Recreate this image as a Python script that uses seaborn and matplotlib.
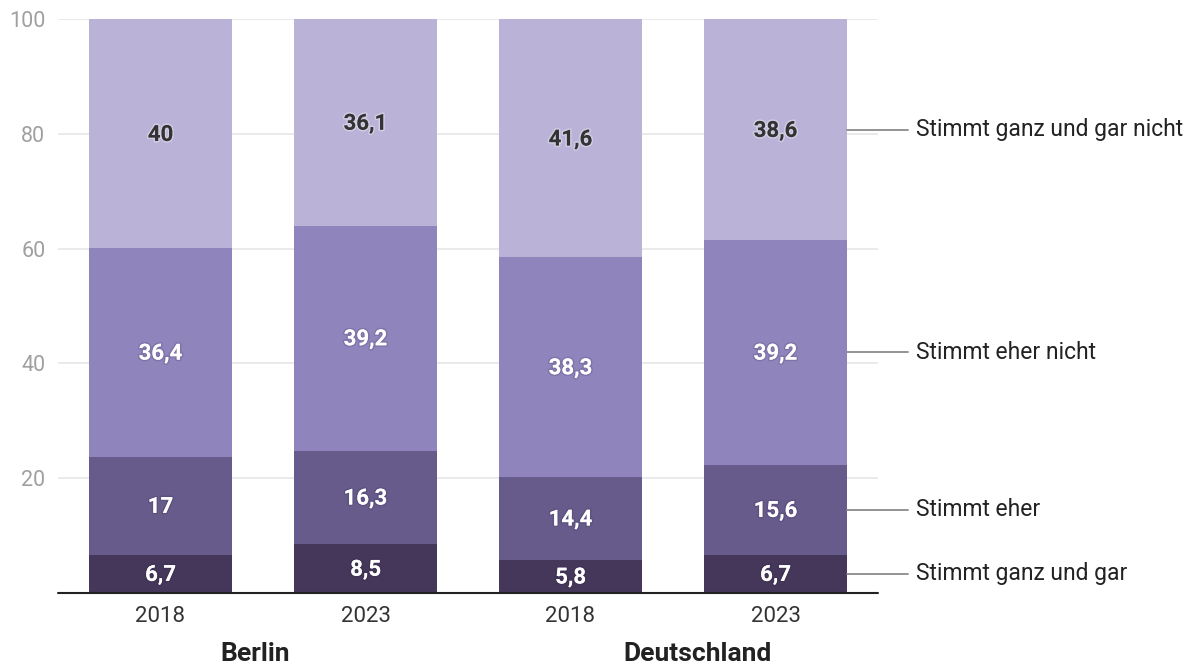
import matplotlib
matplotlib.use("Agg")
import matplotlib.pyplot as plt
import seaborn as sns
import numpy as np
import pandas as pd
from matplotlib import patheffects as pe

# ---- data ----
bar_keys = ["Berlin 2018", "Berlin 2023", "Deutschland 2018", "Deutschland 2023"]
year_labels = ["2018", "2023", "2018", "2023"]
group_labels = ["Berlin", "Deutschland"]
series_names = ["Stimmt ganz und gar", "Stimmt eher", "Stimmt eher nicht", "Stimmt ganz und gar nicht"]
ganz_und_gar = [6.7, 8.5, 5.8, 6.7]
eher = [17, 16.3, 14.4, 15.6]
eher_nicht = [36.4, 39.2, 38.3, 39.2]
gar_nicht = [40, 36.1, 41.6, 38.6]
colors = ["#443759", "#675b8c", "#8f84bb", "#bab3d7"]
text_colors = ["white", "white", "white", "#333333"]

series = [ganz_und_gar, eher, eher_nicht, gar_nicht]

sns.set_theme(style="white")
plt.rcParams["font.family"] = ["Roboto", "DejaVu Sans"]

fig = plt.figure(figsize=(11.93, 6.64), dpi=100)
ax = fig.add_axes([58/1193, 71/664, 820/1193, 574/664])

cum = np.cumsum(np.array(series), axis=0)
cum_clip = np.minimum(cum, 100)

# draw from top layer down (overdraw)
for i in range(3, -1, -1):
    df = pd.DataFrame({"key": bar_keys, "val": cum_clip[i]})
    sns.barplot(data=df, x="key", y="val", order=bar_keys, color=colors[i],
                saturation=1, width=0.7, linewidth=0, ax=ax, zorder=2)

# segment labels
for i in range(4):
    bottoms = cum_clip[i] - np.array(series[i])
    for j in range(4):
        top = cum_clip[i][j]
        mid = (bottoms[j] + top) / 2
        txt = f"{series[i][j]:g}".replace(".", ",")
        halo = (0.15, 0.1, 0.25, 0.15) if i < 3 else (1, 1, 1, 0.35)
        ax.text(j, mid - 0.2, txt, ha="center", va="center", fontsize=16, fontweight="bold",
                color=text_colors[i], zorder=5,
                path_effects=[pe.withStroke(linewidth=2.2, foreground=halo)])

ax.set_xlim(-0.5, 3.5)
ax.set_ylim(0, 100)
ax.set_yticks([20, 40, 60, 80, 100])
ax.set_yticklabels(["20", "40", "60", "80", "100"])
ax.set_xticks(range(4))
ax.set_xticklabels(year_labels)
ax.tick_params(axis="y", length=0, pad=9, labelsize=15.5, labelcolor="#a0a0a0")
ax.tick_params(axis="x", length=0, pad=9, labelsize=16, labelcolor="#333333")
ax.set_xlabel("")
ax.set_ylabel("")
for s in ax.spines.values():
    s.set_visible(False)
ax.yaxis.grid(True, color="#e6e6e6", linewidth=1.2, zorder=0)
ax.set_axisbelow(True)
ax.axhline(0, color="#222222", linewidth=1.5, zorder=6, clip_on=False)

# group labels
ax.text(0.463, -0.1065, group_labels[0], transform=ax.get_xaxis_transform(), ha="center", va="center",
        fontsize=19, fontweight="bold", color="#222222")
ax.text(2.62, -0.1065, group_labels[1], transform=ax.get_xaxis_transform(), ha="center", va="center",
        fontsize=19, fontweight="bold", color="#222222")

# direct legend on last bar
last = 3
for i in range(4):
    bottom = cum_clip[i][last] - series[i][last]
    mid = (bottom + cum_clip[i][last]) / 2
    ax.plot([last + 0.35, 3.647], [mid, mid], color="#8a8a8a", linewidth=1.3, clip_on=False, zorder=4)
    ax.text(3.686, mid, series_names[i], ha="left", va="center", fontsize=16.5, color="#222222", clip_on=False)

fig.savefig("out.png", dpi=100)
